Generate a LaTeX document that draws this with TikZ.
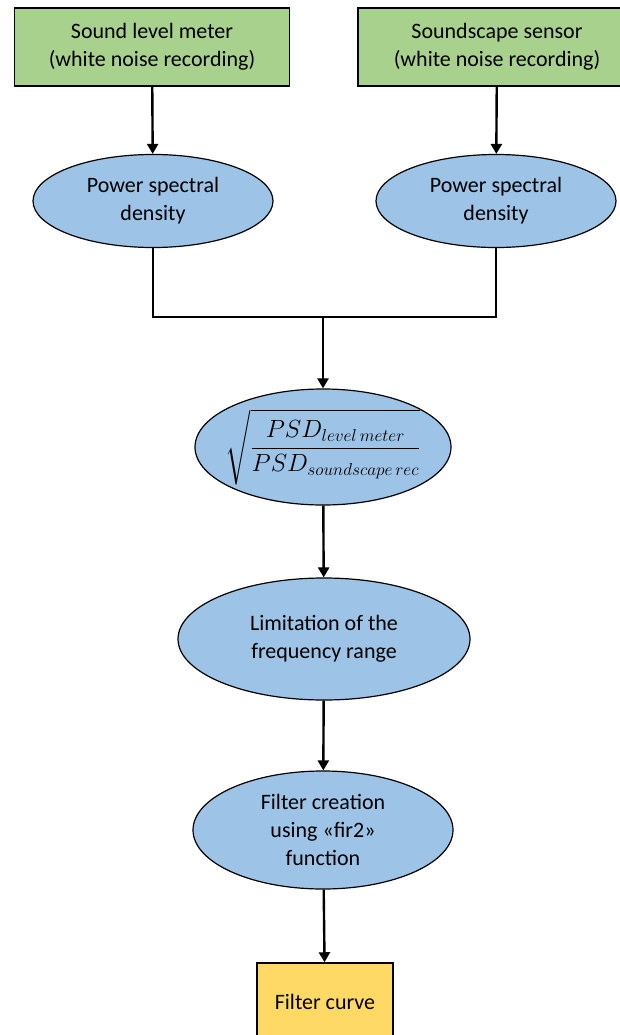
\documentclass[tikz,border=0pt]{standalone}
\usepackage{amsmath}
\usepackage{fontspec}
\setmainfont{Carlito}
\usetikzlibrary{arrows.meta,shapes.geometric}
\definecolor{srcgreen}{HTML}{A9D18E}
\definecolor{stepblue}{HTML}{9DC3E6}
\definecolor{outyellow}{HTML}{FFD966}
\tikzset{font=\fontsize{22}{28}\selectfont}
\tikzset{srcbox/.style={draw,line width=1.5pt,fill=srcgreen,minimum width=275pt,minimum height=78pt,align=center}}
\tikzset{stepell/.style={ellipse,draw,line width=1.2pt,fill=stepblue,inner sep=0pt,align=center}}
\tikzset{outbox/.style={draw,line width=1.5pt,fill=outyellow,minimum width=136pt,minimum height=78pt,align=center}}
\tikzset{flow/.style={line width=2.4pt,-{Triangle[length=10pt,width=11pt]}}}

\begin{document}
\begin{tikzpicture}[x=1pt,y=-1pt]
  \useasboundingbox (0,0) rectangle (620,1035);

  \node[srcbox] (slm) at (152,47) {Sound level meter\\(white noise recording)};
  \node[srcbox,minimum width=278pt] (sss) at (497,47) {Soundscape sensor\\(white noise recording)};

  \node[stepell,minimum width=240pt,minimum height=93pt] (psdl) at (153,201) {Power spectral\\density};
  \node[stepell,minimum width=240pt,minimum height=93pt] (psds) at (496,201) {Power spectral\\density};

  \coordinate (join) at (323,317);

  \node[stepell,minimum width=256pt,minimum height=116pt,inner sep=-8pt,font=\fontsize{24}{30}\selectfont] (ratio) at (323,447)
    {$\displaystyle\sqrt{\frac{PSD_{level\,meter}}{PSD_{soundscape\,rec}}}$};
  \node[stepell,minimum width=292pt,minimum height=122pt] (limit) at (324,639) {Limitation of the\\frequency range};
  \node[stepell,minimum width=260pt,minimum height=118pt] (fir) at (323,830) {Filter creation\\using «fir2»\\function};
  \node[outbox] (curve) at (325,1002) {Filter curve};

  \draw[flow] (slm) -- (psdl);
  \draw[flow] (sss) -- (psds);
  \draw[line width=2.4pt] (psdl.south) |- (join);
  \draw[line width=2.4pt] (psds.south) |- (join);
  \draw[flow] (join) -- (ratio.north);
  \draw[flow] (ratio) -- (limit);
  \draw[flow] (limit) -- (fir);
  \draw[flow] (fir) -- (curve);
\end{tikzpicture}
\end{document}
